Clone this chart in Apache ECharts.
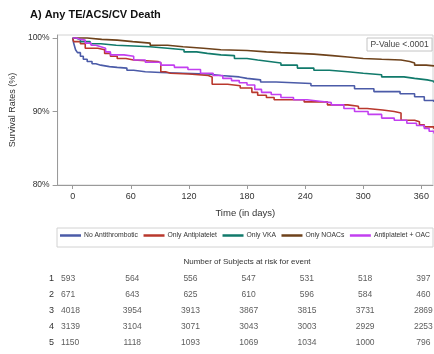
<!DOCTYPE html>
<html>
<head>
<meta charset="utf-8">
<script src="https://cdn.jsdelivr.net/npm/echarts@6/dist/echarts.min.js"></script>
<style>
  html, body { margin: 0; padding: 0; background: #fff; }
  #chart { width: 434px; height: 354px; }
</style>
</head>
<body>
<div id="chart"></div>
<script>
// Kaplan-Meier estimates: [day, survival %] at each step
const groupNames = ['No Antithrombotic', 'Only Antiplatelet', 'Only VKA', 'Only NOACs', 'Antiplatelet + OAC'];
const groupColors = ['#4b5ba8', '#b9382d', '#117a6b', '#6e421b', '#c23ff0'];

const noAntithrombotic = [[0,100],[1,99.3],[3,98.4],[5,98.0],[8,97.5],[11,97.1],[15,96.8],[20,96.5],[24,96.3],[29,96.1],[38,96.0],[46,95.9],[56,95.6],[63,95.4],[75,95.3],[91,95.2],[114,95.1],[140,94.9],[153,94.7],[172,94.5],[180,94.3],[194,94.0],[210,93.8],[246,93.5],[291,93.1],[311,92.7],[338,92.4],[353,92.0],[363,91.5],[373,91.3]];
const onlyAntiplatelet = [[0,100],[1,99.5],[8,99.2],[13,98.6],[26,98.4],[33,97.9],[39,97.5],[46,97.2],[55,97.0],[63,96.8],[88,96.6],[91,95.4],[96,95.2],[101,95.1],[120,94.9],[140,94.7],[144,93.7],[160,93.5],[173,93.2],[185,92.6],[191,92.2],[200,91.9],[208,91.6],[239,91.3],[263,90.9],[284,90.7],[295,90.4],[304,90.2],[320,90.0],[332,89.8],[339,88.8],[353,88.6],[358,88.2],[363,87.9],[373,87.6]];
const onlyVKA = [[0,100],[3,99.8],[8,99.5],[18,99.2],[29,99.0],[45,98.9],[63,98.8],[80,98.6],[98,98.4],[115,98.1],[128,97.9],[139,97.7],[153,97.6],[167,97.2],[180,97.0],[191,96.8],[203,96.6],[215,96.3],[232,95.9],[249,95.6],[265,95.4],[284,95.2],[300,95.0],[319,94.7],[342,94.5],[353,94.3],[366,94.1],[373,93.9]];
const onlyNOACs = [[0,100],[15,99.8],[30,99.7],[46,99.5],[62,99.3],[80,99.0],[98,98.8],[114,98.6],[135,98.4],[153,98.3],[180,98.1],[200,98.0],[215,97.9],[232,97.8],[249,97.6],[268,97.4],[284,97.2],[300,97.1],[319,97.0],[339,96.8],[348,96.6],[353,96.3],[365,96.2],[373,96.1]];
const antiplateletOAC = [[0,100],[4,99.8],[8,99.7],[13,99.3],[19,99.0],[24,98.8],[29,98.6],[34,98.1],[39,97.7],[53,97.5],[63,97.0],[75,96.7],[91,96.3],[105,96.0],[119,95.7],[132,95.2],[145,94.9],[155,94.5],[164,94.2],[172,93.9],[180,93.6],[188,93.0],[195,92.6],[205,92.3],[215,91.9],[228,91.6],[242,91.4],[255,91.2],[267,90.9],[280,90.4],[291,90.0],[305,89.6],[319,89.1],[332,88.8],[345,88.4],[355,88.1],[363,87.7],[368,87.3],[373,87.0]];

const xTicks = [0, 60, 120, 180, 240, 300, 360];
const yTicks = [80, 90, 100];

// Number at risk per group (rows 1-5) at each x tick
const riskRowLabels = ['1', '2', '3', '4', '5'];
const riskCounts = [
  [593, 564, 556, 547, 531, 518, 397],
  [671, 643, 625, 610, 596, 584, 460],
  [4018, 3954, 3913, 3867, 3815, 3731, 2869],
  [3139, 3104, 3071, 3043, 3003, 2929, 2253],
  [1150, 1118, 1093, 1069, 1034, 1000, 796]
];

const FONT = '"Liberation Sans", Arial, sans-serif';
const X_MIN = -15.5, X_MAX = 372;

const curves = [noAntithrombotic, onlyAntiplatelet, onlyVKA, onlyNOACs, antiplateletOAC];

const lineSeries = curves.map((pts, i) => ({
  name: groupNames[i],
  type: 'line',
  step: 'end',
  xAxisIndex: 0,
  yAxisIndex: 0,
  data: pts,
  showSymbol: false,
  symbol: 'none',
  lineStyle: { color: groupColors[i], width: 1.6 },
  itemStyle: { color: groupColors[i] },
  z: 3 + i,
  animation: false
}));

const riskData = [];
riskCounts.forEach((row, r) => {
  row.forEach((n, c) => {
    const first = c === 0;
    riskData.push({
      value: [xTicks[c], riskRowLabels[r], n],
      label: first ? { align: 'left', offset: [-11, 0] } : { align: 'center', offset: [2, 0] }
    });
  });
});

const chart = echarts.init(document.getElementById('chart'), null, { renderer: 'canvas' });

chart.setOption({
  animation: false,
  backgroundColor: '#fff',
  textStyle: { fontFamily: FONT },
  title: {
    text: 'A) Any TE/ACS/CV Death',
    left: 30, top: 9, padding: 0,
    textStyle: { fontFamily: FONT, fontSize: 11, fontWeight: 'bold', color: '#111' }
  },
  legend: {
    data: groupNames,
    left: 60, top: 232,
    padding: 0,
    itemWidth: 21, itemHeight: 2.5, itemGap: 5.5,
    icon: 'rect',
    selectedMode: false,
    textStyle: { fontFamily: FONT, fontSize: 6.8, color: '#333', padding: [0, 0, 0, -2] }
  },
  grid: [
    { left: 57, right: 1, top: 35, height: 150, show: true, borderColor: '#d2d2d2', borderWidth: 1 },
    { left: 57, right: 1, top: 271, height: 80 }
  ],
  xAxis: [
    {
      gridIndex: 0, type: 'value', min: X_MIN, max: X_MAX,
      name: 'Time (in days)', nameLocation: 'middle', nameGap: 23,
      nameTextStyle: { fontFamily: FONT, fontSize: 9.5, color: '#333' },
      axisLine: { show: true, onZero: false, lineStyle: { color: '#9a9a9a' } },
      axisTick: { show: true, length: 4, customValues: xTicks, lineStyle: { color: '#9a9a9a' } },
      axisLabel: { customValues: xTicks, margin: 7, fontFamily: FONT, fontSize: 9, color: '#333' },
      splitLine: { show: false }
    },
    {
      gridIndex: 1, type: 'value', min: X_MIN, max: X_MAX, show: false
    }
  ],
  yAxis: [
    {
      gridIndex: 0, type: 'value', min: 80, max: 100.4,
      name: 'Survival Rates (%)', nameLocation: 'middle', nameGap: 40,
      nameTextStyle: { fontFamily: FONT, fontSize: 9, color: '#333' },
      axisLine: { show: true, onZero: false, lineStyle: { color: '#9a9a9a' } },
      axisTick: { show: true, length: 5, customValues: yTicks, lineStyle: { color: '#9a9a9a' } },
      axisLabel: { customValues: yTicks, margin: 8, formatter: '{value}%', fontFamily: FONT, fontSize: 8.5, color: '#333' },
      splitLine: { show: false }
    },
    {
      gridIndex: 1, type: 'category', data: riskRowLabels, inverse: true,
      axisLine: { show: false }, axisTick: { show: false },
      axisLabel: { margin: 3, fontFamily: FONT, fontSize: 9, color: '#333' }
    }
  ],
  graphic: [
    {
      type: 'rect', shape: { x: 57, y: 228, width: 376, height: 19 },
      style: { fill: 'none', stroke: '#d2d2d2', lineWidth: 1 }, silent: true
    },
    {
      type: 'rect', shape: { x: 367, y: 38, width: 65, height: 13 },
      style: { fill: '#fff', stroke: '#c4c4c4', lineWidth: 1 }, z: 20, silent: true
    },
    {
      type: 'text', x: 399.5, y: 44.5, z: 21, silent: true,
      style: { text: 'P-Value <.0001', fontFamily: FONT, fontSize: 8.5, fill: '#444', align: 'center', verticalAlign: 'middle' }
    },
    {
      type: 'text', x: 247, y: 262, silent: true,
      style: { text: 'Number of Subjects at risk for event', fontFamily: FONT, fontSize: 8, fill: '#333', align: 'center', verticalAlign: 'middle' }
    }
  ],
  series: lineSeries.concat([
    {
      name: 'atRisk',
      type: 'scatter',
      xAxisIndex: 1, yAxisIndex: 1,
      symbolSize: 0,
      data: riskData,
      label: {
        show: true, position: 'inside',
        formatter: p => String(p.value[2]),
        fontFamily: FONT, fontSize: 8.5, color: '#333'
      },
      silent: true
    }
  ])
});
</script>
</body>
</html>
